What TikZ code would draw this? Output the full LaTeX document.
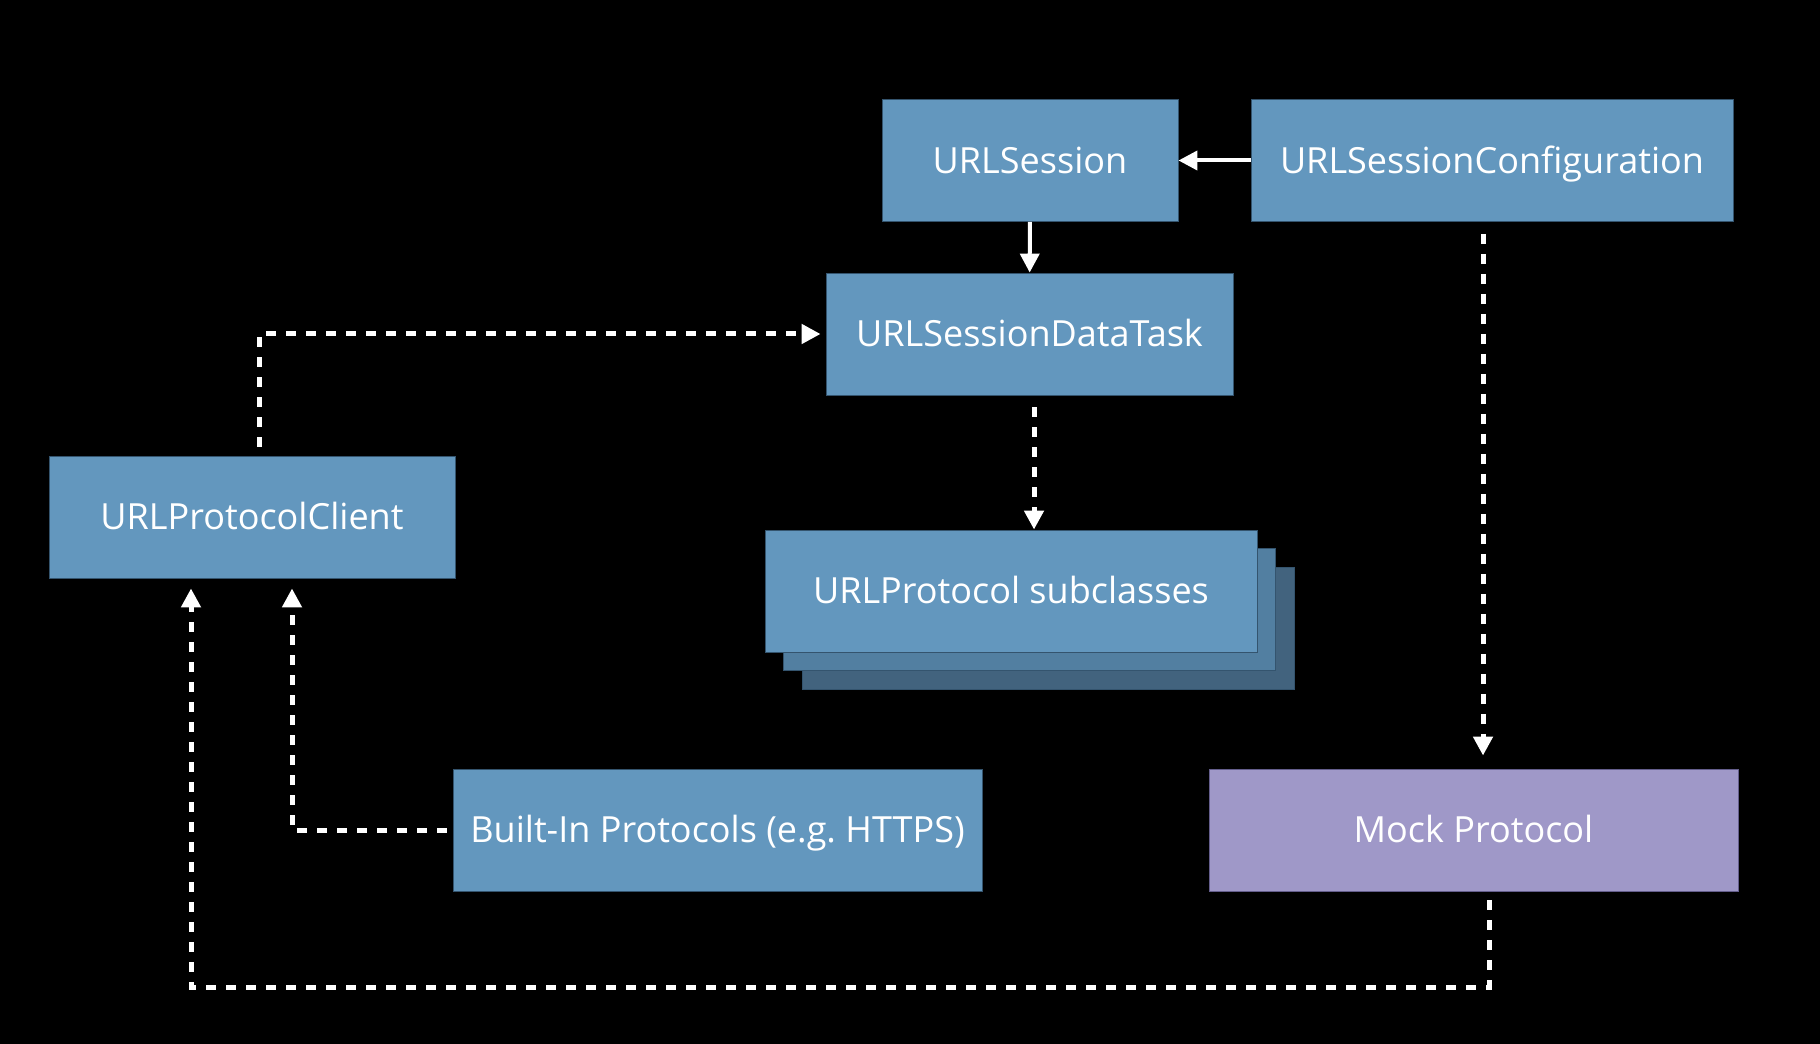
\documentclass[tikz,border=0pt]{standalone}
\usepackage{fontspec}
\setmainfont{Open Sans}
\usetikzlibrary{arrows.meta,positioning,calc}
\definecolor{sessblue}{RGB}{99,151,190}
\definecolor{sessbluemd}{RGB}{82,127,161}
\definecolor{sessbluedk}{RGB}{66,99,126}
\definecolor{sessedge}{RGB}{52,84,110}
\definecolor{mockpurple}{RGB}{159,152,200}
\definecolor{mockedge}{RGB}{100,94,140}
\tikzset{
  sblk/.style={rectangle, draw=sessedge, line width=0.5pt, fill=sessblue, text=white,
               align=center, font=\fontsize{20.5}{25}\selectfont, text height=14.6pt, text depth=0pt,
               minimum height=24.4mm, inner sep=0pt},
  sarr/.style={-{Triangle[length=3.8mm,width=3.8mm]}, line width=0.8mm, white},
  darr/.style={sarr, line width=1mm, dash pattern=on 2mm off 2mm},
}
\begin{document}
\begin{tikzpicture}[x=0.2mm,y=-0.2mm]
  \fill[black] (0,0) rectangle (1820,1044);
  \node[sblk,minimum width=59.2mm](ses) at (1030,160.5){URLSession};
  \node[sblk,minimum width=96.4mm](cfg) at (1492,160.5){URLSessionConfiguration};
  \node[sblk,minimum width=81.4mm](task) at (1029.5,334){URLSessionDataTask};
  \node[sblk,minimum width=81.2mm](cli) at (252,517){URLProtocolClient};
  \node[sblk,fill=sessbluedk,minimum width=98.4mm](sub3) at (1048,628){};
  \node[sblk,fill=sessbluemd,minimum width=98.4mm](sub2) at (1029.5,609.5){};
  \node[sblk,minimum width=98.4mm](sub) at (1011,591){URLProtocol subclasses};
  \node[sblk,minimum width=105.8mm](bip) at (717.5,830){Built-In Protocols (e.g.\ HTTPS)};
  \node[sblk,fill=mockpurple,draw=mockedge,minimum width=105.8mm](mock) at (1473.5,830){Mock Protocol};
  \coordinate (low) at (0,987);
  \draw[sarr](cfg)--(ses);\draw[sarr](ses)--(task);
  \draw[darr,shorten <=2.4mm]([xshift=0.9mm]task.south)--([xshift=0.9mm]task.south |- sub.north);
  \draw[darr,shorten <=1.8mm,shorten >=1mm]([xshift=1.4mm]cli.north) |- (task.west);
  \draw[darr,shorten <=2.4mm,shorten >=2.6mm]([xshift=-1.8mm]cfg.south)--([xshift=-1.8mm]cfg.south |- mock.north);
  \draw[darr,shorten <=1.8mm,shorten >=2mm]([xshift=3.1mm]mock.south)--([xshift=3.1mm]mock.south |- low) -| ([xshift=-12.2mm]cli.south);
  \draw[darr,shorten <=1.2mm,shorten >=2mm](bip.west) -| ([xshift=8mm]cli.south);
\end{tikzpicture}
\end{document}
